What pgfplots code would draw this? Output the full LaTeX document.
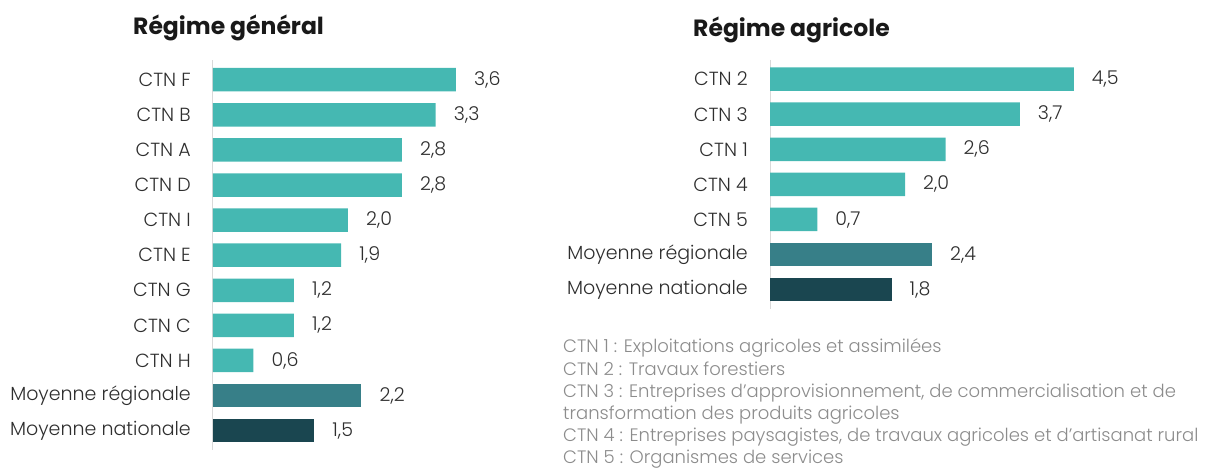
\documentclass[border=0pt]{standalone}
\usepackage{fontspec}
\usepackage{pgfplots}
\pgfplotsset{compat=1.18}
\setmainfont{Poppins}
\newfontfamily\lightfont{Poppins Light}
\definecolor{tealA}{HTML}{45B8B2}
\definecolor{tealB}{HTML}{377F88}
\definecolor{tealC}{HTML}{1A4650}
\definecolor{lbl}{HTML}{2E2E2E}
\definecolor{note}{HTML}{8C8C8C}
\definecolor{axisgray}{HTML}{D9D9D9}
\pgfplotsset{
  hbars/.style={
    scale only axis, xbar, clip=false,
    xmin=0, y dir=reverse,
    axis x line=none, axis y line*=left,
    axis line style={axisgray, line width=1pt, -},
    major tick length=0pt,
    yticklabel style={font=\lightfont\fontsize{19}{19}\selectfont, text=lbl, anchor=east, inner sep=0pt, xshift=-22pt},
    point meta=x,
    nodes near coords={\pgfmathprintnumber[fixed,fixed zerofill,precision=1,use comma,assume math mode=true]{\pgfplotspointmeta}},
    nodes near coords style={font=\lightfont\fontsize{19}{19}\selectfont, text=lbl, anchor=west, inner sep=0pt, xshift=18pt},
    every axis plot/.append style={draw=none, bar width=23.5pt, bar shift=0pt},
  }
}
\begin{document}
\begin{tikzpicture}
\path[use as bounding box] (0pt,0pt) rectangle (1207pt,468pt);
% titles
\node[anchor=base west, inner sep=0pt, font=\bfseries\fontsize{23.5}{23.5}\selectfont, text=black!90] at (133pt,433pt) {Régime général};
\node[anchor=base west, inner sep=0pt, font=\bfseries\fontsize{23.5}{23.5}\selectfont, text=black!90] at (693pt,431pt) {Régime agricole};
% left
\begin{axis}[hbars, at={(213pt,18pt)}, anchor=south west,
  width=270pt, height=389.6pt, xmax=4,
  ymin=-0.55, ymax=10.55, ytick={0,...,10},
  yticklabels={CTN F, CTN B, CTN A, CTN D, CTN I, CTN E, CTN G, CTN C, CTN H, Moyenne régionale, Moyenne nationale}]
\addplot[fill=tealA] coordinates {(3.6,0) (3.3,1) (2.8,2) (2.8,3) (2.0,4) (1.9,5) (1.2,6) (1.2,7) (0.6,8)};
\addplot[fill=tealB] coordinates {(2.2,9)};
\addplot[fill=tealC] coordinates {(1.5,10)};
\end{axis}
% right
\begin{axis}[hbars, at={(770pt,159pt)}, anchor=south west,
  width=337.5pt, height=249.2pt, xmax=5,
  ymin=-0.55, ymax=6.55, ytick={0,...,6},
  yticklabels={CTN 2, CTN 3, CTN 1, CTN 4, CTN 5, Moyenne régionale, Moyenne nationale}]
\addplot[fill=tealA] coordinates {(4.5,0) (3.7,1) (2.6,2) (2.0,3) (0.7,4)};
\addplot[fill=tealB] coordinates {(2.4,5)};
\addplot[fill=tealC] coordinates {(1.8,6)};
\end{axis}
% note
\node[anchor=base west, align=left, inner sep=0pt, font=\lightfont\fontsize{18}{22.2}\selectfont, text=note] at (563pt,4pt)
{CTN 1 : Exploitations agricoles et assimilées\\
CTN 2 : Travaux forestiers\\
CTN 3 : Entreprises d’approvisionnement, de commercialisation et de\\
transformation des produits agricoles\\
CTN 4 : Entreprises paysagistes, de travaux agricoles et d’artisanat rural\\
CTN 5 : Organismes de services};
\end{tikzpicture}
\end{document}
